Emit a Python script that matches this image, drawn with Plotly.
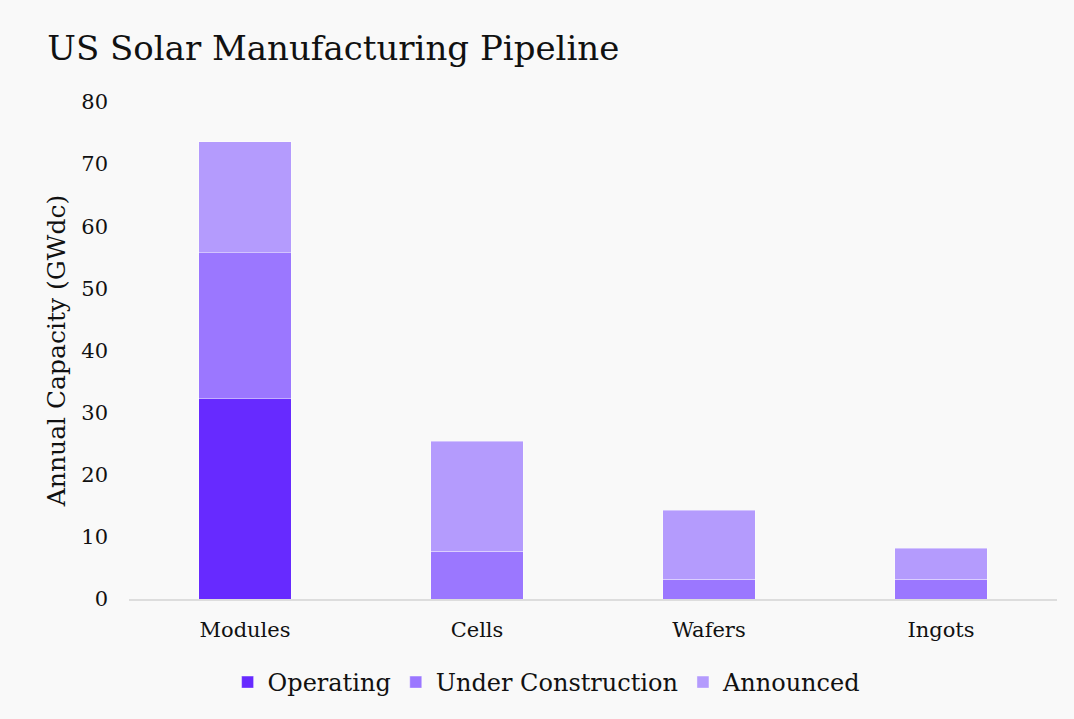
import plotly.graph_objects as go

categories = ["Modules", "Cells", "Wafers", "Ingots"]
operating = [32.2, 0, 0, 0]
under_construction = [23.5, 7.7, 3.2, 3.2]
announced = [17.9, 17.7, 11.1, 5.0]

FONT = "DejaVu Serif, serif"

fig = go.Figure()
series = [("Operating", operating, "#672AFF"),
          ("Under Construction", under_construction, "#9B77FF"),
          ("Announced", announced, "#B49BFD")]
for name, vals, col in series:
    fig.add_trace(go.Bar(x=categories, y=vals, name=name,
                         marker=dict(color=col, line=dict(color="rgba(255,255,255,0.4)", width=1))))

fig.update_layout(
    barmode="stack",
    bargap=0.6,
    width=1074, height=719,
    paper_bgcolor="#F9F9F9", plot_bgcolor="#F9F9F9",
    font=dict(family=FONT, color="#111111", size=21),
    title=dict(text="US Solar Manufacturing Pipeline", x=0.044, xanchor="left",
               y=0.933, yanchor="middle", font=dict(size=34, family=FONT)),
    margin=dict(l=129, r=17, t=102, b=120),
    xaxis=dict(showgrid=False, showline=True, linecolor="#DDDDDD", linewidth=2,
               tickfont=dict(size=21), ticks="", ticklabelstandoff=11),
    yaxis=dict(range=[0, 80], dtick=10, showgrid=False, zeroline=False,
               title=dict(text="Annual Capacity (GWdc)", font=dict(size=25), standoff=8),
               tickfont=dict(size=21), ticklabelstandoff=20),
    legend=dict(orientation="h", x=0.45, xanchor="center", y=-0.168, yanchor="middle",
                font=dict(size=24), itemwidth=30, traceorder="normal"),
)

fig.write_html("out.html")
